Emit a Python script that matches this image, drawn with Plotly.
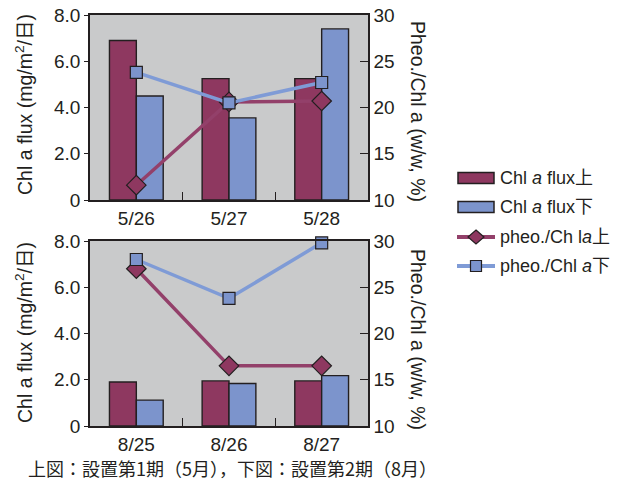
import plotly.graph_objects as go

# ---- data ----
dates_may = ["5/26", "5/27", "5/28"]
dates_aug = ["8/25", "8/26", "8/27"]

flux_upper_may = [6.9, 5.25, 5.25]
flux_lower_may = [4.5, 3.55, 7.4]
pheo_upper_may = [11.6, 20.6, 20.7]
pheo_lower_may = [23.8, 20.5, 22.7]

flux_upper_aug = [1.9, 1.95, 1.95]
flux_lower_aug = [1.12, 1.84, 2.18]
pheo_upper_aug = [27.0, 16.5, 16.5]
pheo_lower_aug = [28.0, 23.8, 29.8]

flux_ticks = [0, 2, 4, 6, 8]
flux_ticktext = ["0", "2.0", "4.0", "6.0", "8.0"]
ratio_ticks = [10, 15, 20, 25, 30]

legend_labels = ["Chl <i>a</i> flux上", "Chl <i>a</i> flux下",
                 "pheo./Ch l<i>a</i>上", "pheo./Chl <i>a</i>下"]
caption = "上図：設置第1期（5月），下図：設置第2期（8月）"

# ---- styling ----
W, H = 629, 493
MAROON = "#8e3860"
BLUE = "#7c94cc"
MAROON_LINE = "#93406a"
BLUE_LINE = "#7f9bd6"
EDGE = "#231f20"
TXT = "#231f20"
BG = "#c9cacb"
FONT = "Liberation Sans, Arial, Noto Sans CJK JP, sans-serif"
CJK = "Noto Sans CJK JP, sans-serif"


def px_x(v):
    return v / W


def px_y(v):
    return 1 - v / H


fig = go.Figure()


def add_panel(cats, fu, fl, pu, pl, xa, ya, ya2):
    fig.add_trace(go.Bar(x=cats, y=fu, xaxis=xa, yaxis=ya, marker_color=MAROON,
                         marker_line=dict(color=EDGE, width=1.4), showlegend=False))
    fig.add_trace(go.Bar(x=cats, y=fl, xaxis=xa, yaxis=ya, marker_color=BLUE,
                         marker_line=dict(color=EDGE, width=1.4), showlegend=False))
    fig.add_trace(go.Scatter(x=cats, y=pu, xaxis=xa, yaxis=ya2, mode="lines+markers",
                             line=dict(color=MAROON_LINE, width=3.5),
                             marker=dict(symbol="diamond", size=15, color=MAROON,
                                         line=dict(color=EDGE, width=1.2)),
                             cliponaxis=False, showlegend=False))
    fig.add_trace(go.Scatter(x=cats, y=pl, xaxis=xa, yaxis=ya2, mode="lines+markers",
                             line=dict(color=BLUE_LINE, width=3.5),
                             marker=dict(symbol="square", size=12, color=BLUE,
                                         line=dict(color=EDGE, width=1.2)),
                             cliponaxis=False, showlegend=False))


add_panel(dates_may, flux_upper_may, flux_lower_may, pheo_upper_may, pheo_lower_may,
          "x", "y", "y2")
add_panel(dates_aug, flux_upper_aug, flux_lower_aug, pheo_upper_aug, pheo_lower_aug,
          "x2", "y3", "y4")

x_dom = [px_x(90), px_x(368)]
top_dom = [px_y(200), px_y(15)]
bot_dom = [px_y(426), px_y(241)]

xaxis_style = dict(domain=x_dom, showline=True, linecolor=EDGE, linewidth=1.5,
                   mirror=True, ticks="inside", tickson="boundaries", ticklen=8,
                   tickcolor=EDGE, tickfont=dict(family=FONT, size=19, color=TXT),
                   showgrid=False, fixedrange=True, automargin=False)
left_style = dict(range=[0, 8], tickvals=flux_ticks, ticktext=flux_ticktext,
                  showline=True, linecolor=EDGE, linewidth=1.5, ticks="outside",
                  ticklen=4, tickcolor=EDGE, showgrid=False, zeroline=False,
                  automargin=False,
                  tickfont=dict(family=FONT, size=19, color=TXT))
right_style = dict(range=[10, 30], tickvals=ratio_ticks, side="right",
                   showline=True, linecolor=EDGE, linewidth=1.5, ticks="inside",
                   ticklen=8, tickcolor=EDGE, showgrid=False, zeroline=False,
                   automargin=False,
                   tickfont=dict(family=FONT, size=19, color=TXT))

fig.update_layout(
    width=W, height=H,
    margin=dict(l=0, r=0, t=0, b=0, autoexpand=False),
    paper_bgcolor="white", plot_bgcolor=BG,
    barmode="group", bargap=0.42, bargroupgap=0,
    showlegend=False,
    xaxis=dict(anchor="y", **xaxis_style),
    xaxis2=dict(anchor="y3", **xaxis_style),
    yaxis=dict(domain=top_dom, anchor="x", **left_style),
    yaxis2=dict(domain=top_dom, anchor="x", overlaying="y", **right_style),
    yaxis3=dict(domain=bot_dom, anchor="x2", **left_style),
    yaxis4=dict(domain=bot_dom, anchor="x2", overlaying="y3", **right_style),
)

# axis titles
ann = []
for yc in (105, 333):
    ann.append(dict(text="Chl a flux (mg/m<sup>2</sup>/日)", x=px_x(24), y=px_y(yc),
                    xref="paper", yref="paper", xanchor="center", yanchor="middle",
                    showarrow=False, textangle=-90,
                    font=dict(family=FONT, size=19.5, color=TXT)))
    ann.append(dict(text="Pheo./Chl a (w/w, %)", x=px_x(418), y=px_y(yc + 6),
                    xref="paper", yref="paper", xanchor="center", yanchor="middle",
                    showarrow=False, textangle=90,
                    font=dict(family=FONT, size=19.5, color=TXT)))

# legend
shapes = []
leg_y = [178, 207, 237, 266]
bar_cols = [MAROON, BLUE]
for i in range(2):
    shapes.append(dict(type="rect", xref="paper", yref="paper",
                       x0=px_x(458), x1=px_x(494), y0=px_y(leg_y[i] + 5.5),
                       y1=px_y(leg_y[i] - 5.5), fillcolor=bar_cols[i],
                       line=dict(color=EDGE, width=1.5)))
line_cols = [MAROON_LINE, BLUE_LINE]
for i in range(2):
    ly = leg_y[2 + i]
    shapes.append(dict(type="line", xref="paper", yref="paper",
                       x0=px_x(457), x1=px_x(495), y0=px_y(ly), y1=px_y(ly),
                       line=dict(color=line_cols[i], width=4)))
# diamond symbol
ly = leg_y[2]
shapes.append(dict(type="path", xref="paper", yref="paper",
                   path=(f"M {px_x(476)} {px_y(ly - 7)} L {px_x(484)} {px_y(ly)} "
                         f"L {px_x(476)} {px_y(ly + 7)} L {px_x(468)} {px_y(ly)} Z"),
                   fillcolor=MAROON, line=dict(color=EDGE, width=1.2)))
# square symbol
ly = leg_y[3]
shapes.append(dict(type="rect", xref="paper", yref="paper",
                   x0=px_x(470.5), x1=px_x(481.5), y0=px_y(ly + 5.5), y1=px_y(ly - 5.5),
                   fillcolor=BLUE, line=dict(color=EDGE, width=1.2)))

for i, lab in enumerate(legend_labels):
    ann.append(dict(text=lab, x=px_x(498), y=px_y(leg_y[i]), xref="paper",
                    yref="paper", xanchor="left", yanchor="middle", showarrow=False,
                    font=dict(family=FONT, size=18, color=TXT)))

ann.append(dict(text=caption, x=px_x(26), y=px_y(468), xref="paper", yref="paper",
                xanchor="left", yanchor="middle", showarrow=False,
                font=dict(family=CJK, size=18, color=TXT)))

fig.update_layout(annotations=ann, shapes=shapes)

fig.write_html("out.html")
